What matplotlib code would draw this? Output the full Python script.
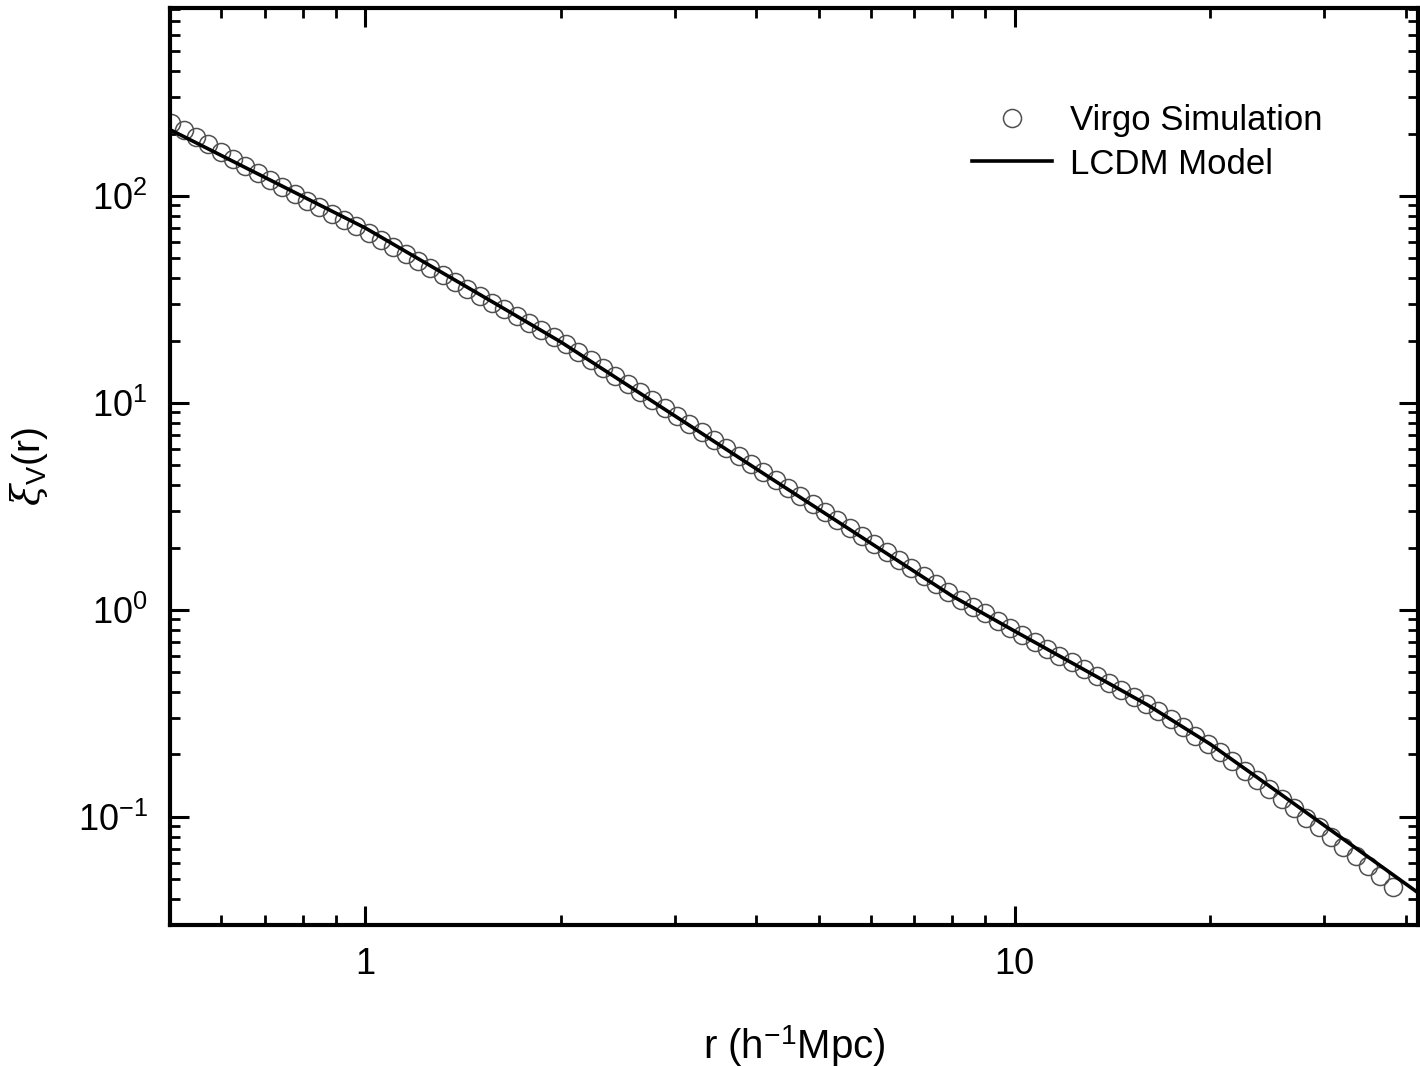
import matplotlib
matplotlib.use("Agg")
import matplotlib.pyplot as plt
import matplotlib.ticker as mticker

plt.rcParams['font.family'] = ['Liberation Sans', 'DejaVu Sans']
plt.rcParams['mathtext.fontset'] = 'custom'
plt.rcParams['mathtext.rm'] = 'Liberation Sans'
plt.rcParams['mathtext.it'] = 'DejaVu Serif:italic'
plt.rcParams['axes.unicode_minus'] = False

# Virgo simulation points (r in h^-1 Mpc)
r_sim = [0.5023, 0.5248, 0.5483, 0.5728, 0.5984, 0.6252, 0.6531, 0.6823, 0.7129, 0.7447,
         0.7780, 0.8128, 0.8492, 0.8872, 0.9268, 0.9683, 1.0116, 1.0568, 1.1041, 1.1535,
         1.2050, 1.2589, 1.3152, 1.3740, 1.4355, 1.4997, 1.5668, 1.6368, 1.7100, 1.7865,
         1.8664, 1.9498, 2.0370, 2.1281, 2.2233, 2.3227, 2.4266, 2.5351, 2.6485, 2.7669,
         2.8907, 3.0200, 3.1550, 3.2961, 3.4435, 3.5975, 3.7584, 3.9264, 4.1020, 4.2855,
         4.4771, 4.6774, 4.8865, 5.1050, 5.3333, 5.5719, 5.8210, 6.0814, 6.3533, 6.6374,
         6.9343, 7.2444, 7.5683, 7.9068, 8.2604, 8.6298, 9.0157, 9.4189, 9.8401, 10.280,
         10.740, 11.220, 11.722, 12.246, 12.794, 13.366, 13.964, 14.588, 15.241, 15.922,
         16.634, 17.378, 18.155, 18.967, 19.815, 20.701, 21.627, 22.594, 23.605, 24.660,
         25.763, 26.915, 28.119, 29.376, 30.690, 32.063, 33.497, 34.995, 36.559, 38.194]
xi_sim = [224.6, 207.7, 192.1, 177.7, 163.9, 151.6, 140.1, 129.0, 119.5, 110.5,
          102.2, 94.95, 88.23, 81.85, 76.38, 71.29, 66.33, 61.24, 56.54, 52.39,
          48.48, 44.86, 41.50, 38.40, 35.62, 32.96, 30.57, 28.35, 26.30, 24.39,
          22.57, 20.89, 19.23, 17.63, 16.16, 14.78, 13.52, 12.37, 11.31, 10.35,
          9.465, 8.659, 7.920, 7.244, 6.627, 6.060, 5.543, 5.071, 4.639, 4.243,
          3.882, 3.549, 3.248, 2.971, 2.716, 2.485, 2.273, 2.079, 1.901, 1.739,
          1.591, 1.455, 1.331, 1.217, 1.119, 1.037, 0.9607, 0.8861, 0.8192, 0.7575,
          0.7000, 0.6491, 0.6013, 0.5572, 0.5162, 0.4783, 0.4432, 0.4108, 0.3790, 0.3503,
          0.3232, 0.2954, 0.2707, 0.2469, 0.2257, 0.2052, 0.1851, 0.1669, 0.1506, 0.1358,
          0.1225, 0.1103, 0.0992, 0.08906, 0.07995, 0.07178, 0.06446, 0.05774, 0.05161, 0.04601]

# LCDM model curve
r_model = [0.5, 0.6, 0.7, 0.8, 1.0, 1.25, 1.6, 2.0, 2.5, 3.2, 4.0, 5.0, 6.3, 8.0,
           10.0, 12.5, 16.0, 20.0, 25.0, 32.0, 42.0]
xi_model = [209.3, 156.9, 123.0, 99.6, 70.0, 46.6, 29.7, 19.7, 12.52, 7.57, 4.80, 3.05,
            1.904, 1.170, 0.789, 0.535, 0.348, 0.2246, 0.1367, 0.0784, 0.0425]

fig = plt.figure(figsize=(14.2, 10.67), dpi=100)
ax = fig.add_axes([0.1197, 0.1331, 0.8789, 0.8594])

ax.plot(r_sim, xi_sim, linestyle='none', marker='o', markersize=13,
        markerfacecolor='none', markeredgecolor='#505050', markeredgewidth=1.1,
        label='Virgo Simulation', zorder=2)
ax.plot(r_model, xi_model, color='black', linewidth=2.6, label='LCDM Model', zorder=3)

ax.set_xscale('log')
ax.set_yscale('log')
ax.set_xlim(0.5, 41.8)
ax.set_ylim(0.03, 810)

ax.set_xticks([1, 10])
ax.set_xticklabels(['1', '10'])
ax.xaxis.set_minor_locator(mticker.LogLocator(base=10, subs=range(2, 10)))
ax.xaxis.set_minor_formatter(mticker.NullFormatter())
ax.yaxis.set_major_locator(mticker.LogLocator(base=10))
ax.yaxis.set_major_formatter(mticker.LogFormatterMathtext())
ax.yaxis.set_minor_locator(mticker.LogLocator(base=10, subs=range(2, 10)))
ax.yaxis.set_minor_formatter(mticker.NullFormatter())

ax.tick_params(which='both', direction='in', top=True, right=True, labelsize=26)
ax.tick_params(which='major', length=14, width=2.2, pad=16)
ax.tick_params(which='minor', length=7, width=2.0)
for s in ax.spines.values():
    s.set_linewidth(3)

ax.set_xlabel(r'r (h$^{-1}$Mpc)', fontsize=29, labelpad=30)
ax.set_ylabel(r'$\xi_\mathrm{V}$(r)', fontsize=28, labelpad=20)

ax.legend(loc='upper left', bbox_to_anchor=(0.629, 0.914), frameon=False,
          fontsize=25, handlelength=2.3, borderpad=0, labelspacing=0.3,
          handletextpad=0.5)

fig.savefig('out.png', dpi=100)
